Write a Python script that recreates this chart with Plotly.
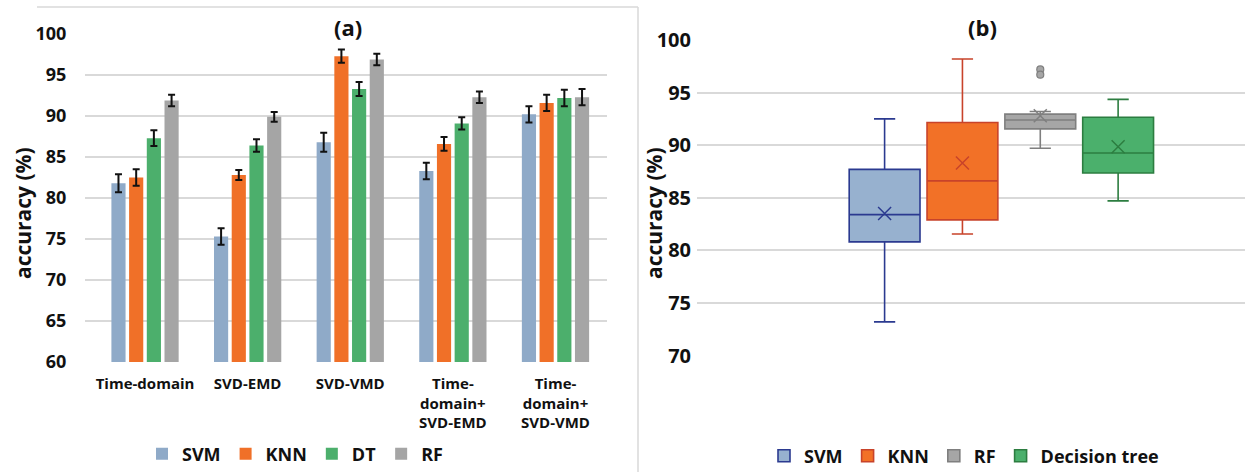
import plotly.graph_objects as go

W, H = 1252, 472

# ---------- Panel (a) data ----------
categories = ["Time-domain", "SVD-EMD", "SVD-VMD", "Time-<br>domain+<br>SVD-EMD", "Time-<br>domain+<br>SVD-VMD"]
bar_series = ["SVM", "KNN", "DT", "RF"]
svm_vals = [81.8, 75.3, 86.8, 83.3, 90.2]
knn_vals = [82.5, 82.8, 97.3, 86.6, 91.6]
dt_vals = [87.3, 86.4, 93.3, 89.1, 92.2]
rf_vals = [91.9, 89.9, 96.9, 92.3, 92.3]
svm_err = [1.1, 1.0, 1.15, 1.0, 1.0]
knn_err = [1.0, 0.6, 0.8, 0.85, 1.0]
dt_err = [0.95, 0.75, 0.85, 0.75, 1.0]
rf_err = [0.7, 0.6, 0.7, 0.7, 1.0]
bar_colors = ["#8FAAC8", "#F07028", "#4CAF6C", "#A5A5A5"]

# ---------- Panel (b) data ----------
box_names = ["SVM", "KNN", "RF", "Decision tree"]
box_q1 = [80.8, 82.9, 91.55, 87.35]
box_median = [83.4, 86.6, 92.4, 89.25]
box_q3 = [87.7, 92.15, 92.95, 92.65]
box_lower = [73.2, 81.55, 89.7, 84.7]
box_upper = [92.5, 98.2, 93.2, 94.35]
box_mean = [83.5, 88.3, 92.8, 89.85]
rf_outliers = [97.2, 96.7]
box_fill = ["#97B1CF", "#F27127", "#A6A6A6", "#4BB06C"]
box_line = ["#2B3A90", "#C8432A", "#7F7F7F", "#2C7D40"]

fig = go.Figure()

vals = [svm_vals, knn_vals, dt_vals, rf_vals]
errs = [svm_err, knn_err, dt_err, rf_err]
for name, v, e, c in zip(bar_series, vals, errs, bar_colors):
    fig.add_trace(go.Bar(
        x=categories, y=v, name=name, marker=dict(color=c, line=dict(width=0)),
        error_y=dict(type="data", array=e, color="#111111", thickness=2, width=3.5),
        xaxis="x", yaxis="y", legend="legend",
    ))

for i, name in enumerate(box_names):
    fig.add_trace(go.Box(
        x=[i], q1=[box_q1[i]], median=[box_median[i]], q3=[box_q3[i]],
        lowerfence=[box_lower[i]], upperfence=[box_upper[i]],
        name=name, width=0.91, whiskerwidth=0.3,
        fillcolor=box_fill[i], line=dict(color=box_line[i], width=1.6),
        xaxis="x2", yaxis="y2", legend="legend2", boxpoints=False,
    ))
for i, name in enumerate(box_names):
    fig.add_trace(go.Scatter(
        x=[i], y=[box_mean[i]], mode="markers", showlegend=False,
        marker=dict(symbol="x-thin-open", size=13, color=box_line[i],
                    line=dict(color=box_line[i], width=1.5)),
        xaxis="x2", yaxis="y2", hoverinfo="skip",
    ))
rf_idx = box_names.index("RF")
fig.add_trace(go.Scatter(
    x=[rf_idx] * len(rf_outliers), y=rf_outliers, mode="markers", showlegend=False,
    marker=dict(symbol="circle", size=7, color="#A6A6A6", line=dict(color="#7F7F7F", width=1.2)),
    xaxis="x2", yaxis="y2",
))

grid = "#D9D9D9"
bold = dict(family="Open Sans", color="#111111", weight="bold")

fig.update_layout(
    width=W, height=H,
    margin=dict(l=0, r=0, t=0, b=0, pad=0, autoexpand=False),
    paper_bgcolor="white", plot_bgcolor="white",
    barmode="group", bargap=0.31, bargroupgap=0.2,
    xaxis=dict(domain=[85 / W, 607 / W], anchor="y", type="category", automargin=False,
               range=[-0.585, 4.502], showgrid=False, showline=False, zeroline=False,
               ticks="outside", ticklen=8, tickcolor="rgba(0,0,0,0)",
               tickfont=dict(size=15, **bold)),
    yaxis=dict(domain=[1 - 362 / H, 1 - 34 / H], anchor="x", range=[60, 100], dtick=5,
               automargin=False,
               showgrid=True, gridcolor=grid, gridwidth=1.5, zeroline=False, showline=False,
               ticks="outside", ticklen=14, tickcolor="rgba(0,0,0,0)",
               tickfont=dict(size=18, **bold)),
    xaxis2=dict(domain=[697 / W, 1245 / W], anchor="y2", range=[-2.41, 4.63], automargin=False,
                showgrid=False, showticklabels=False, zeroline=False, showline=False),
    yaxis2=dict(domain=[1 - 355.5 / H, 1 - 40 / H], anchor="x2", range=[70, 100], dtick=5,
                automargin=False,
                showgrid=True, gridcolor=grid, gridwidth=1.5, zeroline=False, showline=False,
                ticks="outside", ticklen=1, tickcolor="rgba(0,0,0,0)",
                tickfont=dict(size=20, **bold)),
    legend=dict(orientation="h", x=295 / W, xanchor="center", y=1 - 454 / H, yanchor="middle",
                font=dict(size=18, **bold), bgcolor="rgba(0,0,0,0)"),
    legend2=dict(orientation="h", x=964 / W, xanchor="center", y=1 - 456 / H, yanchor="middle",
                 font=dict(size=18, **bold), bgcolor="rgba(0,0,0,0)"),
    showlegend=True,
    annotations=[
        dict(text="(a)", x=348 / W, y=1 - 27 / H, xref="paper", yref="paper",
             showarrow=False, font=dict(size=22, **bold), xanchor="center", yanchor="middle"),
        dict(text="(b)", x=982 / W, y=1 - 27 / H, xref="paper", yref="paper",
             showarrow=False, font=dict(size=22, **bold), xanchor="center", yanchor="middle"),
        dict(text="accuracy (%)", x=23 / W, y=1 - 213 / H, xref="paper", yref="paper",
             showarrow=False, textangle=-90, font=dict(size=21, **bold),
             xanchor="center", yanchor="middle"),
        dict(text="accuracy (%)", x=654 / W, y=1 - 213 / H, xref="paper", yref="paper",
             showarrow=False, textangle=-90, font=dict(size=21, **bold),
             xanchor="center", yanchor="middle"),
    ],
    shapes=[
        dict(type="line", xref="paper", yref="paper", x0=37 / W, x1=638 / W,
             y0=1 - 7 / H, y1=1 - 7 / H, line=dict(color="#D9D9D9", width=1.5)),
        dict(type="line", xref="paper", yref="paper", x0=638 / W, x1=638 / W,
             y0=0, y1=1 - 7 / H, line=dict(color="#D9D9D9", width=1.5)),
    ],
)

fig.write_html("out.html")
